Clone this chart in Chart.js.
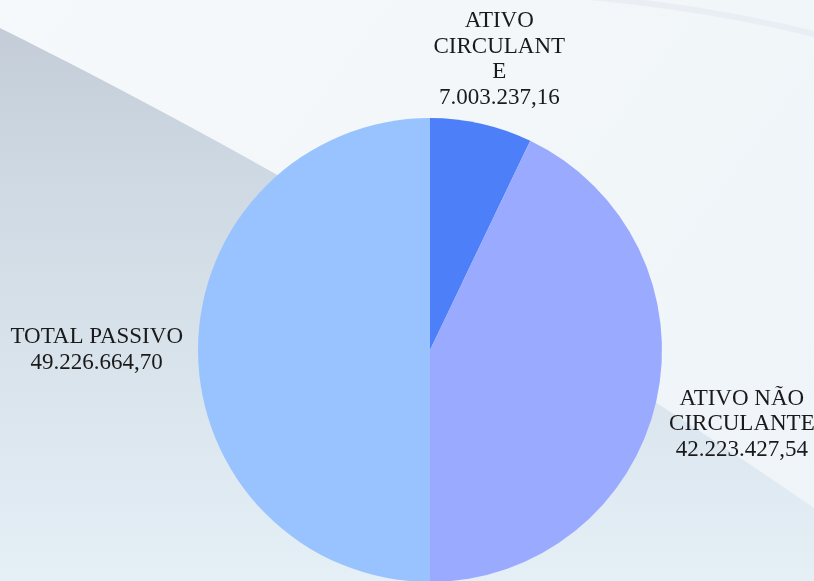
<!DOCTYPE html>
<html>
<head>
<meta charset="utf-8">
<script src="https://cdn.jsdelivr.net/npm/chart.js@4"></script>
<style>
  html, body { margin: 0; padding: 0; overflow: hidden; background: #eef3f7; }
  #wrap { position: relative; width: 814px; height: 600px; }
</style>
</head>
<body>
<div id="wrap"><canvas id="pieChart"></canvas></div>
<script>
  // data
  const categories = ['ATIVO CIRCULANTE', 'ATIVO NÃO CIRCULANTE', 'TOTAL PASSIVO'];
  const labelLines = [['ATIVO', 'CIRCULANT', 'E'], ['ATIVO NÃO', 'CIRCULANTE'], ['TOTAL PASSIVO']];
  const values = [7003237.16, 42223427.54, 49226664.70];
  const sliceColors = ['#4d80f8', '#9aabff', '#99c3fe'];

  const fmtBR = (v) => {
      const [i, d] = v.toFixed(2).split('.');
      return i.replace(/\B(?=(\d{3})+(?!\d))/g, '.') + ',' + d;
  };

  const backgroundPlugin = {
      id: 'bg',
      beforeDraw: (chart) => {
          const ctx = chart.ctx;
          const w = chart.width, h = chart.height;
          ctx.save();
          const g = ctx.createLinearGradient(0, 0, 0, h);
          g.addColorStop(0, '#c2cbd5');
          g.addColorStop(0.3, '#cfd9e3');
          g.addColorStop(1, '#e6f0f7');
          ctx.fillStyle = g;
          ctx.fillRect(0, 0, w, h);

          // white swoosh
          const g2 = ctx.createLinearGradient(0, 0, w, h);
          g2.addColorStop(0, '#f6f9fb');
          g2.addColorStop(1, '#eef4f8');
          ctx.fillStyle = g2;
          ctx.beginPath();
          ctx.moveTo(0, 0);
          ctx.lineTo(0, 28);
          ctx.bezierCurveTo(250, 152, 560, 332, 814, 508);
          ctx.lineTo(w, 0);
          ctx.closePath();
          ctx.fill();

          // faint stripe top right
          ctx.strokeStyle = 'rgba(228,233,240,0.6)';
          ctx.lineWidth = 6;
          ctx.beginPath();
          ctx.moveTo(580, -4);
          ctx.quadraticCurveTo(710, 8, 814, 34);
          ctx.stroke();
          ctx.restore();
      }
  };

  const labelPlugin = {
      id: 'outLabels',
      afterDatasetsDraw: (chart) => {
          const ctx = chart.ctx;
          const meta = chart.getDatasetMeta(0);
          const lh = 25.5;
          ctx.save();
          ctx.font = '23px "Liberation Serif", "Times New Roman", serif';
          ctx.fillStyle = '#1a1a1a';
          ctx.textAlign = 'center';
          ctx.textBaseline = 'middle';
          meta.data.forEach((arc, i) => {
              const p = arc.getProps(['x', 'y', 'startAngle', 'endAngle', 'outerRadius'], true);
              const mid = (p.startAngle + p.endAngle) / 2;
              const lines = labelLines[i].concat([fmtBR(values[i])]);
              const bw = Math.max(...lines.map(l => ctx.measureText(l).width));
              const bh = lines.length * lh;
              const ax = p.x + Math.cos(mid) * (p.outerRadius + 15);
              const ay = p.y + Math.sin(mid) * (p.outerRadius + 15);
              const cx = ax + Math.cos(mid) * bw / 2;
              const cy = ay + Math.sin(mid) * bh / 2 + Math.max(0, Math.sin(mid)) * 50;
              lines.forEach((l, k) => {
                  ctx.fillText(l, cx, cy - bh / 2 + lh / 2 + k * lh);
              });
          });
          ctx.restore();
      }
  };

  new Chart(document.getElementById('pieChart').getContext('2d'), {
      type: 'pie',
      data: {
          labels: categories,
          datasets: [{
              data: values,
              backgroundColor: sliceColors,
              borderWidth: 0
          }]
      },
      options: {
          responsive: true,
          maintainAspectRatio: false,
          animation: false,
          layout: { padding: { top: 118, bottom: 18, left: 198, right: 152 } },
          plugins: {
              legend: { display: false },
              tooltip: { enabled: false }
          }
      },
      plugins: [backgroundPlugin, labelPlugin]
  });
</script>
</body>
</html>
